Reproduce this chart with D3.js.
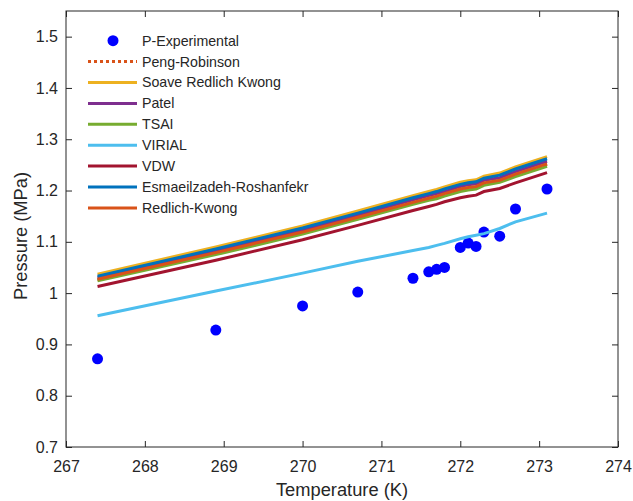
<!DOCTYPE html>
<html>
<head>
<meta charset="utf-8">
<script src="https://cdn.jsdelivr.net/npm/d3@7"></script>
<style>
  body { margin: 0; background: #fff; }
  text { font-family: "Liberation Sans", Arial, sans-serif; fill: #262626; }
</style>
</head>
<body>
<div id="chart"></div>
<script>
// experimental temperatures (K) and pressures (MPa)
const temps = [267.4, 268.9, 270.0, 270.7, 271.4, 271.6, 271.7, 271.8, 272.0, 272.1, 272.2, 272.3, 272.5, 272.7, 273.1];
const expP = [0.872, 0.928, 0.975, 1.002, 1.029, 1.0415, 1.0465, 1.050, 1.089, 1.0975, 1.091, 1.119, 1.111, 1.164, 1.203];

// model predictions at the same temperatures
const pengRobinson = [1.026, 1.078, 1.118, 1.147, 1.176, 1.184, 1.188, 1.193, 1.202, 1.205, 1.207, 1.214, 1.219, 1.231, 1.251];
const soave = [1.037, 1.090, 1.131, 1.160, 1.190, 1.198, 1.202, 1.207, 1.216, 1.219, 1.221, 1.228, 1.234, 1.246, 1.266];
const patel = [1.030, 1.083, 1.123, 1.152, 1.182, 1.190, 1.194, 1.198, 1.208, 1.211, 1.213, 1.220, 1.225, 1.237, 1.257];
const tsai = [1.024, 1.075, 1.115, 1.144, 1.173, 1.181, 1.184, 1.189, 1.198, 1.201, 1.203, 1.210, 1.216, 1.227, 1.247];
const virial = [0.956, 1.004, 1.039, 1.062, 1.083, 1.089, 1.093, 1.097, 1.106, 1.110, 1.113, 1.116, 1.126, 1.139, 1.156];
const vdw = [1.013, 1.064, 1.104, 1.132, 1.161, 1.169, 1.173, 1.178, 1.186, 1.189, 1.191, 1.198, 1.204, 1.215, 1.235];
const esmaeil = [1.033, 1.086, 1.127, 1.156, 1.186, 1.194, 1.198, 1.203, 1.212, 1.215, 1.217, 1.224, 1.230, 1.242, 1.262];
const redlichKwong = [1.027, 1.079, 1.119, 1.148, 1.177, 1.185, 1.189, 1.194, 1.203, 1.206, 1.208, 1.215, 1.220, 1.232, 1.252];

const xTicks = [267, 268, 269, 270, 271, 272, 273, 274];
const yTicks = [0.7, 0.8, 0.9, 1, 1.1, 1.2, 1.3, 1.4, 1.5];

const series = [
  { name: "Peng-Robinson", values: pengRobinson, color: "#D95319", dash: "3,3" },
  { name: "Soave Redlich Kwong", values: soave, color: "#EDB120" },
  { name: "Patel", values: patel, color: "#7E2F8E" },
  { name: "TSAI", values: tsai, color: "#77AC30" },
  { name: "VIRIAL", values: virial, color: "#4DBEEE" },
  { name: "VDW", values: vdw, color: "#A2142F" },
  { name: "Esmaeilzadeh-Roshanfekr", values: esmaeil, color: "#0072BD" },
  { name: "Redlich-Kwong", values: redlichKwong, color: "#D95319" }
];

const width = 633, height = 501;
const margin = { top: 11, right: 15, bottom: 54, left: 66 };

const svg = d3.select("#chart").append("svg")
  .attr("width", width)
  .attr("height", height);

const x = d3.scaleLinear().domain([267, 274]).range([margin.left, width - margin.right]);
const y = d3.scaleLinear().domain([0.7, 1.55]).range([height - margin.bottom, margin.top]);

// axes (box with inward ticks on all sides)
const axisColor = "#262626";
const tickLen = 6;
function styleAxis(g) {
  g.select(".domain").remove();
  g.selectAll(".tick line").attr("stroke", axisColor);
  g.selectAll(".tick text").attr("font-size", 16).attr("fill", axisColor);
}
svg.append("g")
  .attr("transform", `translate(0,${y.range()[0]})`)
  .call(d3.axisBottom(x).tickValues(xTicks).tickFormat(d3.format("d")).tickSizeInner(-tickLen).tickPadding(14))
  .call(styleAxis);
svg.append("g")
  .attr("transform", `translate(0,${y.range()[1]})`)
  .call(d3.axisTop(x).tickValues(xTicks).tickFormat("").tickSizeInner(-tickLen))
  .call(styleAxis);
svg.append("g")
  .attr("transform", `translate(${x.range()[0]},0)`)
  .call(d3.axisLeft(y).tickValues(yTicks).tickFormat(d => d3.format("")(+d.toFixed(1))).tickSizeInner(-tickLen).tickPadding(8))
  .call(styleAxis);
svg.append("g")
  .attr("transform", `translate(${x.range()[1]},0)`)
  .call(d3.axisRight(y).tickValues(yTicks).tickFormat("").tickSizeInner(-tickLen))
  .call(styleAxis);

svg.append("rect")
  .attr("x", x.range()[0]).attr("y", y.range()[1])
  .attr("width", x.range()[1] - x.range()[0])
  .attr("height", y.range()[0] - y.range()[1])
  .attr("fill", "none").attr("stroke", axisColor).attr("stroke-width", 1);

// experimental points
svg.append("g")
  .selectAll("circle")
  .data(temps)
  .enter().append("circle")
  .attr("cx", d => x(d))
  .attr("cy", (d, i) => y(expP[i]))
  .attr("r", 5.5)
  .attr("fill", "#0000FF");

// model lines
const line = d3.line()
  .x((d, i) => x(temps[i]))
  .y(d => y(d));

svg.append("g")
  .selectAll("path")
  .data(series)
  .enter().append("path")
  .attr("d", d => line(d.values))
  .attr("fill", "none")
  .attr("stroke", d => d.color)
  .attr("stroke-width", 3)
  .attr("stroke-dasharray", d => d.dash || null);

// legend
const legend = svg.append("g");
const legendItems = [{ name: "P-Experimental", marker: true }].concat(series);
const rowH = 20.9;
const leg = legend.selectAll("g")
  .data(legendItems)
  .enter().append("g")
  .attr("transform", (d, i) => `translate(0,${40.7 + i * rowH})`);
leg.filter(d => d.marker).append("circle")
  .attr("cx", 113).attr("cy", 0).attr("r", 5.5).attr("fill", "#0000FF");
leg.filter(d => !d.marker).append("line")
  .attr("x1", 88).attr("x2", 137).attr("y1", 0).attr("y2", 0)
  .attr("stroke", d => d.color)
  .attr("stroke-width", 3)
  .attr("stroke-dasharray", d => d.dash || null);
leg.append("text")
  .attr("x", 142).attr("y", 0).attr("dy", "0.35em")
  .attr("font-size", 14.2)
  .text(d => d.name);

// axis labels
svg.append("text")
  .attr("x", (x.range()[0] + x.range()[1]) / 2)
  .attr("y", 496)
  .attr("text-anchor", "middle")
  .attr("font-size", 18.3)
  .text("Temperature (K)");
svg.append("text")
  .attr("transform", `translate(27,236) rotate(-90)`)
  .attr("text-anchor", "middle")
  .attr("font-size", 18.3)
  .text("Pressure (MPa)");
</script>
</body>
</html>
